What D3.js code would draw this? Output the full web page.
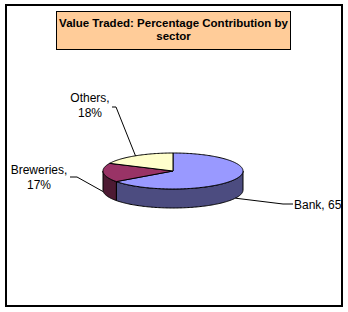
<!DOCTYPE html>
<html>
<head>
<meta charset="utf-8">
<script src="https://cdn.jsdelivr.net/npm/d3@7"></script>
<style>
  body { margin: 0; background: #fff; }
  svg { display: block; font-family: Arial, "Liberation Sans", sans-serif; }
</style>
</head>
<body>
<svg width="348" height="312"></svg>
<script>
const sectors = ["Bank", "Breweries", "Others"];
const shares = [65, 17, 18];
const labelLines = [["Bank, 65%"], ["Breweries,", "17%"], ["Others,", "18%"]];

const topColors = ["#9999ff", "#993366", "#ffffcc"];
const sideColors = ["#4c4c80", "#4d1a33", "#80806a"];

const svg = d3.select("svg");

// pie geometry (3D ellipse)
const cx = 173, cy = 171, rx = 70, ry = 18, depth = 19;

const pt = (a, dy = 0) => [cx + rx * Math.sin(a), cy - ry * Math.cos(a) + dy];

const data = sectors.map((s, i) => ({ name: s, value: shares[i], i }));
const arcs = d3.pie().sort(null).value(d => d.value)(data);

const line = d3.line();

svg.append("defs").append("clipPath").attr("id", "plot")
  .append("rect").attr("x", 6).attr("y", 5).attr("width", 336).attr("height", 301);

const g = svg.append("g").attr("clip-path", "url(#plot)");

function arcPoints(a0, a1, dy) {
  const n = Math.max(2, Math.ceil((a1 - a0) / 0.02));
  return d3.range(n + 1).map(k => pt(a0 + (a1 - a0) * k / n, dy));
}

// outer walls (only the front half is visible)
arcs.forEach(d => {
  const a0 = Math.max(d.startAngle, Math.PI / 2);
  const a1 = Math.min(d.endAngle, 3 * Math.PI / 2);
  if (a1 <= a0) return;
  const pts = arcPoints(a0, a1, 0).concat(arcPoints(a0, a1, depth).reverse());
  g.append("path")
    .attr("d", line(pts) + "Z")
    .attr("fill", sideColors[d.data.i])
    .attr("stroke", "#000")
    .attr("stroke-width", 1)
    .attr("stroke-linejoin", "round");
});

// top faces
arcs.forEach(d => {
  const pts = [[cx, cy]].concat(arcPoints(d.startAngle, d.endAngle, 0));
  g.append("path")
    .attr("d", line(pts) + "Z")
    .attr("fill", topColors[d.data.i])
    .attr("stroke", "#000")
    .attr("stroke-width", 1)
    .attr("stroke-linejoin", "round");
});

// labels and leader lines
const labelPos = [
  { x: 294, y: 209, anchor: "start", leader: [[283, 204], [293, 204]] },
  { x: 39, y: 174, anchor: "middle", leader: [[77, 177], [70, 177]] },
  { x: 90, y: 102, anchor: "middle", leader: [[116, 107], [112, 107]] }
];

arcs.forEach(d => {
  const i = d.data.i;
  const mid = (d.startAngle + d.endAngle) / 2;
  const edge = pt(mid, Math.cos(mid) < 0 ? depth : 0);
  const lp = labelPos[i];
  g.append("path")
    .attr("d", line([edge].concat(lp.leader)))
    .attr("fill", "none")
    .attr("stroke", "#000")
    .attr("stroke-width", 1);
  const t = g.append("text")
    .attr("x", lp.x).attr("y", lp.y)
    .attr("text-anchor", lp.anchor)
    .attr("font-size", 12)
    .attr("fill", "#000");
  labelLines[i].forEach((s, k) => {
    t.append("tspan").attr("x", lp.x).attr("dy", k === 0 ? 0 : 15).text(s);
  });
});

// title box
svg.append("rect")
  .attr("x", 56.5).attr("y", 11.5).attr("width", 234).attr("height", 38)
  .attr("fill", "#ffcc99").attr("stroke", "#000").attr("stroke-width", 1);

const title = svg.append("text")
  .attr("x", 173.5).attr("y", 27)
  .attr("text-anchor", "middle")
  .attr("font-size", 11.5)
  .attr("font-weight", "bold");
title.append("tspan").attr("x", 173.5).text("Value Traded: Percentage Contribution by");
title.append("tspan").attr("x", 173.5).attr("dy", 13).text("sector");

// chart border
svg.append("rect")
  .attr("x", 6).attr("y", 5).attr("width", 336).attr("height", 301)
  .attr("fill", "none").attr("stroke", "#000").attr("stroke-width", 2);
</script>
</body>
</html>
